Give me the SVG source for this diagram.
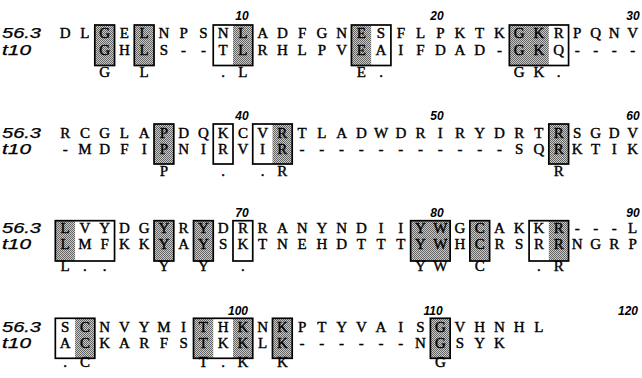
<svg xmlns="http://www.w3.org/2000/svg" width="642" height="378" viewBox="0 0 642 378">
<defs>
<pattern id="ht" width="2" height="2" patternUnits="userSpaceOnUse"><rect width="2" height="2" fill="#cacaca"/><rect width="1" height="1" fill="#646464"/><rect x="1" y="1" width="1" height="1" fill="#646464"/></pattern>
<style>
.sh{fill:url(#ht);stroke:none}
.bx{fill:none;stroke:#000;stroke-width:1.7}
.aa{font-family:"Liberation Serif","Times New Roman",serif;font-size:15px;fill:#000;stroke:#000;stroke-width:0.4;text-anchor:middle}
.lb{font-family:"Liberation Sans",Arial,sans-serif;font-style:italic;font-size:14px;fill:#000;stroke:#000;stroke-width:0.25}
.nm{font-family:"Liberation Sans",Arial,sans-serif;font-style:italic;font-weight:bold;font-size:12px;fill:#000;text-anchor:middle}
</style>
</defs>
<rect width="642" height="378" fill="#fff"/>

<g id="block1">
<rect class="sh" x="94.81" y="25" width="19.74" height="40.5"/>
<rect class="sh" x="134.29" y="25" width="19.74" height="40.5"/>
<rect class="sh" x="232.99" y="25" width="19.74" height="40.5"/>
<rect class="sh" x="351.43" y="25" width="19.74" height="40.5"/>
<rect class="sh" x="509.35" y="25" width="39.48" height="40.5"/>
<text class="nm" x="242" y="20">10</text>
<text class="nm" x="437" y="20">20</text>
<text class="nm" x="633" y="20">30</text>
<text class="lb" x="2" y="38.3" textLength="39" lengthAdjust="spacingAndGlyphs">56.3</text>
<text class="lb" x="2" y="54.8" textLength="29" lengthAdjust="spacingAndGlyphs">t10</text>
<text class="aa" y="38.3" x="65.2 84.9 104.7 124.4 144.2 163.9 183.6 203.4 223.1 242.9 262.6 282.3 302.1 321.8 341.6 361.3 381.0 400.8 420.5 440.3 460.0 479.7 499.5 519.2 538.9 558.7 577.2 595.7 614.2 632.7">DLGELNPSNLADFGNESFLPKTKGKRPQNV</text>
<text class="aa" y="54.8" x="104.7 124.4 144.2 163.9 183.6 203.4 223.1 242.9 262.6 282.3 302.1 321.8 341.6 361.3 381.0 400.8 420.5 440.3 460.0 479.7 499.5 519.2 538.9 558.7 577.2 595.7 614.2 632.7">GHLS--TLRHLPVEAIFDAD-GKQ----</text>
<text class="aa" y="76.5" x="104.7 144.2 223.1 242.9 361.3 381.0 519.2 538.9 558.7">GL.LE.GK.</text>
<rect class="bx" x="94.81" y="25" width="19.74" height="40.5"/>
<rect class="bx" x="134.29" y="25" width="19.74" height="40.5"/>
<rect class="bx" x="213.25" y="25" width="39.48" height="40.5"/>
<rect class="bx" x="351.43" y="25" width="39.48" height="40.5"/>
<rect class="bx" x="509.35" y="25" width="59.22" height="40.5"/>
</g>

<g id="block2">
<rect class="sh" x="154.03" y="124" width="19.74" height="40"/>
<rect class="sh" x="272.47" y="124" width="19.74" height="40"/>
<rect class="sh" x="548.83" y="124" width="19.74" height="40"/>
<text class="nm" x="242" y="119.5">40</text>
<text class="nm" x="437" y="119.5">50</text>
<text class="nm" x="633" y="119.5">60</text>
<text class="lb" x="2" y="138.3" textLength="39" lengthAdjust="spacingAndGlyphs">56.3</text>
<text class="lb" x="2" y="154" textLength="29" lengthAdjust="spacingAndGlyphs">t10</text>
<text class="aa" y="138.3" x="65.2 84.9 104.7 124.4 144.2 163.9 183.6 203.4 223.1 242.9 262.6 282.3 302.1 321.8 341.6 361.3 381.0 400.8 420.5 440.3 460.0 479.7 499.5 519.2 538.9 558.7 577.2 595.7 614.2 632.7">RCGLAPDQKCVRTLADWDRIRYDRTRSGDV</text>
<text class="aa" y="154" x="65.2 84.9 104.7 124.4 144.2 163.9 183.6 203.4 223.1 242.9 262.6 282.3 302.1 321.8 341.6 361.3 381.0 400.8 420.5 440.3 460.0 479.7 499.5 519.2 538.9 558.7 577.2 595.7 614.2 632.7">-MDFIPNIRVIR-----------SQRKTIK</text>
<text class="aa" y="176" x="163.9 223.1 262.6 282.3 558.7">P..RR</text>
<rect class="bx" x="154.03" y="124" width="19.74" height="40"/>
<rect class="bx" x="213.25" y="124" width="19.74" height="40"/>
<rect class="bx" x="252.73" y="124" width="39.48" height="40"/>
<rect class="bx" x="548.83" y="124" width="19.74" height="40"/>
</g>

<g id="block3">
<rect class="sh" x="55.33" y="220.7" width="19.74" height="40.3"/>
<rect class="sh" x="154.03" y="220.7" width="19.74" height="40.3"/>
<rect class="sh" x="193.51" y="220.7" width="19.74" height="40.3"/>
<rect class="sh" x="410.65" y="220.7" width="39.48" height="40.3"/>
<rect class="sh" x="469.87" y="220.7" width="19.74" height="40.3"/>
<rect class="sh" x="548.83" y="220.7" width="19.74" height="40.3"/>
<text class="nm" x="242" y="216.7">70</text>
<text class="nm" x="437" y="216.7">80</text>
<text class="nm" x="633" y="216.7">90</text>
<text class="lb" x="2" y="233.3" textLength="39" lengthAdjust="spacingAndGlyphs">56.3</text>
<text class="lb" x="2" y="249.3" textLength="29" lengthAdjust="spacingAndGlyphs">t10</text>
<text class="aa" y="233.3" x="65.2 84.9 104.7 124.4 144.2 163.9 183.6 203.4 223.1 242.9 262.6 282.3 302.1 321.8 341.6 361.3 381.0 400.8 420.5 440.3 460.0 479.7 499.5 519.2 538.9 558.7 577.2 595.7 614.2 632.7">LVYDGYRYDRRANYNDIIYWGCAKKR---L</text>
<text class="aa" y="249.3" x="65.2 84.9 104.7 124.4 144.2 163.9 183.6 203.4 223.1 242.9 262.6 282.3 302.1 321.8 341.6 361.3 381.0 400.8 420.5 440.3 460.0 479.7 499.5 519.2 538.9 558.7 577.2 595.7 614.2 632.7">LMFKKYAYSKTNEHDTTTYWHCRSRRNGRP</text>
<text class="aa" y="271" x="65.2 84.9 104.7 163.9 203.4 242.9 420.5 440.3 479.7 538.9 558.7">L..YY.YWC.R</text>
<rect class="bx" x="55.33" y="220.7" width="59.22" height="40.3"/>
<rect class="bx" x="154.03" y="220.7" width="19.74" height="40.3"/>
<rect class="bx" x="193.51" y="220.7" width="19.74" height="40.3"/>
<rect class="bx" x="232.99" y="220.7" width="19.74" height="40.3"/>
<rect class="bx" x="410.65" y="220.7" width="39.48" height="40.3"/>
<rect class="bx" x="469.87" y="220.7" width="19.74" height="40.3"/>
<rect class="bx" x="529.09" y="220.7" width="39.48" height="40.3"/>
</g>

<g id="block4">
<rect class="sh" x="75.07" y="318.3" width="19.74" height="40"/>
<rect class="sh" x="193.51" y="318.3" width="19.74" height="40"/>
<rect class="sh" x="232.99" y="318.3" width="19.74" height="40"/>
<rect class="sh" x="272.47" y="318.3" width="19.74" height="40"/>
<rect class="sh" x="430.39" y="318.3" width="19.74" height="40"/>
<text class="nm" x="238" y="315">100</text>
<text class="nm" x="433" y="315">110</text>
<text class="nm" x="628" y="315">120</text>
<text class="lb" x="2" y="331.7" textLength="39" lengthAdjust="spacingAndGlyphs">56.3</text>
<text class="lb" x="2" y="347.7" textLength="29" lengthAdjust="spacingAndGlyphs">t10</text>
<text class="aa" y="331.7" x="65.2 84.9 104.7 124.4 144.2 163.9 183.6 203.4 223.1 242.9 262.6 282.3 302.1 321.8 341.6 361.3 381.0 400.8 420.5 440.3 460.0 479.7 499.5 519.2 538.9">SCNVYMITHKNKPTYVAISGVHNHL</text>
<text class="aa" y="347.7" x="65.2 84.9 104.7 124.4 144.2 163.9 183.6 203.4 223.1 242.9 262.6 282.3 302.1 321.8 341.6 361.3 381.0 400.8 420.5 440.3 460.0 479.7 499.5">ACKARFSTKKLK------NGSYK</text>
<text class="aa" y="367" x="65.2 84.9 203.4 223.1 242.9 282.3 440.3">.CT.KKG</text>
<rect class="bx" x="55.33" y="318.3" width="39.48" height="40"/>
<rect class="bx" x="193.51" y="318.3" width="59.22" height="40"/>
<rect class="bx" x="272.47" y="318.3" width="19.74" height="40"/>
<rect class="bx" x="430.39" y="318.3" width="19.74" height="40"/>
</g>
</svg>
